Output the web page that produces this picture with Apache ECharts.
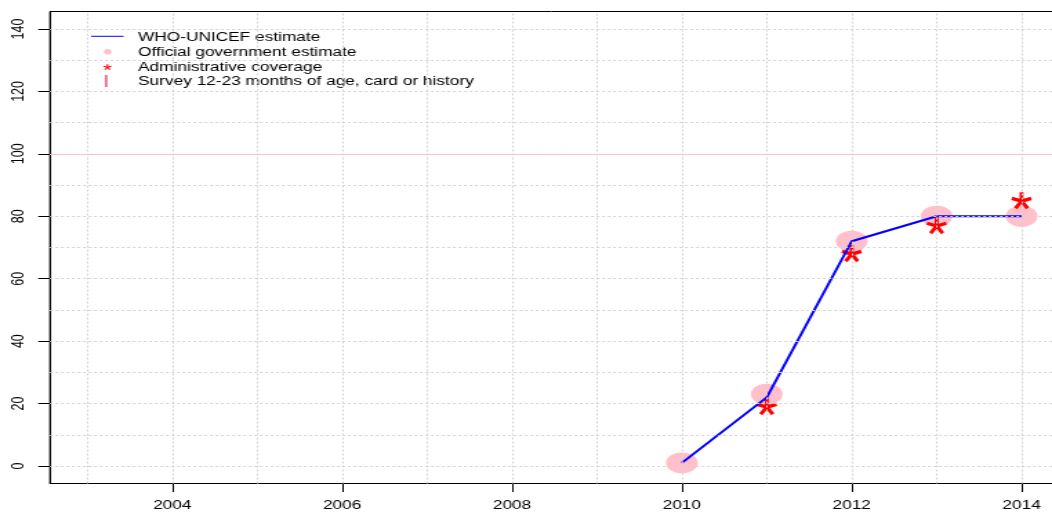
<!DOCTYPE html>
<html>
<head>
<meta charset="utf-8">
<script src="https://cdn.jsdelivr.net/npm/echarts@6/dist/echarts.min.js"></script>
<style>
  html, body { margin: 0; padding: 0; background: #fff; overflow: hidden; }
  /* the reference is stretched sideways, so draw narrow and widen the whole canvas */
  #chart { width: 762px; height: 514px; transform: scaleX(1.3806); transform-origin: 0 0; }
</style>
</head>
<body>
<div id="chart"></div>
<script>
// data
const years = [2010, 2011, 2012, 2013, 2014];
const whoUnicef = [1, 22, 72, 80, 80];
const officialGov = [1, 23, 72, 80, 80];
const adminCoverage = [null, 19, 68, 77, 85];

const xTicks = [2004, 2006, 2008, 2010, 2012, 2014];
const yTicks = [0, 20, 40, 60, 80, 100, 120, 140];
const xGrid = [2003, 2004, 2005, 2006, 2007, 2008, 2009, 2010, 2011, 2012, 2013, 2014];
const yGrid = [0, 10, 20, 30, 40, 50, 60, 70, 80, 90, 100, 110, 120, 130, 140];
const target = 100;

const legendNames = [
  "WHO-UNICEF estimate",
  "Official government estimate",
  "Administrative coverage",
  "Survey 12-23 months of age, card or history"
];

const FONT = "Liberation Sans, Arial, sans-serif";
const INK = "#000";

// five armed asterisk, like R's pch="*"; each arm is a thin quad
function asteriskArms(L, w) {
  return [0, 72, 144, 216, 288].map(function (deg) {
    const a = deg * Math.PI / 180;
    const dx = Math.sin(a), dy = -Math.cos(a);
    const nx = Math.cos(a), ny = Math.sin(a);
    return [
      [nx * w, ny * w],
      [nx * w + dx * L, ny * w + dy * L],
      [-nx * w + dx * L, -ny * w + dy * L],
      [-nx * w, -ny * w]
    ];
  });
}
const STAR = asteriskArms(10, 1.9).map(function (pts) {
  return "M" + pts.map(function (q) { return q[0].toFixed(2) + "," + q[1].toFixed(2); }).join("L") + "Z";
}).join("");

function pairs(vals) {
  return years.map(function (y, i) { return [y, vals[i]]; }).filter(function (d) { return d[1] != null; });
}

const chart = echarts.init(document.getElementById("chart"));

const rowY = [37.8, 52.5, 67.2, 81.9];
const legendGraphics = [
  { type: "line", shape: { x1: 66, y1: rowY[0] - 1.5, x2: 89.5, y2: rowY[0] - 1.5 }, style: { stroke: "#0000ff", lineWidth: 1 } },
  { type: "circle", shape: { cx: 78, cy: rowY[1] - 0.8, r: 2.7 }, style: { fill: "#ffc0cb" } },
  { type: "rect", shape: { x: 76.2, y: rowY[3] - 7, width: 1.4, height: 12 }, style: { fill: "#f2426b" } }
];
asteriskArms(3, 0.55).forEach(function (pts) {
  legendGraphics.push({
    type: "polygon", x: 77.8, y: rowY[2],
    shape: { points: pts }, style: { fill: "#ff0000" }
  });
});
legendNames.forEach(function (name, i) {
  legendGraphics.push({
    type: "text", x: 100, y: rowY[i],
    style: { text: name, font: "12.5px " + FONT, fill: INK, verticalAlign: "middle", align: "left" }
  });
});

const option = {
  animation: false,
  backgroundColor: "#fff",
  grid: {
    left: 36.2, top: 11.5, width: 730.8, height: 472,
    show: true, borderColor: "#000", borderWidth: 1, backgroundColor: "transparent",
    containLabel: false, outerBoundsMode: "none"
  },
  xAxis: {
    type: "value", min: 2002.56, max: 2014.44,
    axisLine: { show: true, onZero: false, lineStyle: { color: "#000", width: 1 } },
    axisTick: { show: true, length: 8.5, customValues: xTicks, lineStyle: { color: "#000" } },
    axisLabel: {
      customValues: xTicks, margin: 16, color: INK, fontSize: 12.5, fontFamily: FONT,
      formatter: function (v) { return String(v); }
    },
    splitLine: { show: false }
  },
  yAxis: {
    type: "value", min: -5.6, max: 145.6,
    axisLine: { show: true, onZero: false, lineStyle: { color: "#000", width: 1 } },
    axisTick: { show: true, length: 8.5, customValues: yTicks, lineStyle: { color: "#000" } },
    axisLabel: {
      customValues: yTicks, rotate: 90, margin: 16, color: INK, fontSize: 12.5, fontFamily: FONT,
      formatter: function (v) { return String(v); }
    },
    splitLine: { show: false }
  },
  graphic: legendGraphics,
  series: [
    {
      name: "grid", type: "line", data: [], silent: true, z: 1,
      markLine: {
        silent: true, symbol: ["none", "none"], label: { show: false }, animation: false,
        lineStyle: { color: "#d3d3d3", type: [2, 2], width: 1 },
        emphasis: { disabled: true },
        data: xGrid.map(function (v) { return { xAxis: v }; })
          .concat(yGrid.map(function (v) { return { yAxis: v }; }))
          .concat([{ yAxis: target, lineStyle: { color: "#ffc0cb", type: "solid", width: 1 } }])
      }
    },
    {
      name: legendNames[1], type: "scatter", z: 2,
      symbol: "circle", symbolSize: [23, 21],
      itemStyle: { color: "#ffc0cb", opacity: 1 },
      data: pairs(officialGov)
    },
    {
      name: legendNames[2], type: "scatter", z: 3,
      symbol: "path://" + STAR, symbolSize: [15, 17],
      itemStyle: { color: "#ff0000", opacity: 1 },
      data: pairs(adminCoverage)
    },
    {
      name: legendNames[0], type: "line", z: 4,
      symbol: "none", showSymbol: false,
      lineStyle: { color: "#0000ff", width: 2 },
      data: pairs(whoUnicef)
    }
  ]
};

chart.setOption(option);
</script>
</body>
</html>
